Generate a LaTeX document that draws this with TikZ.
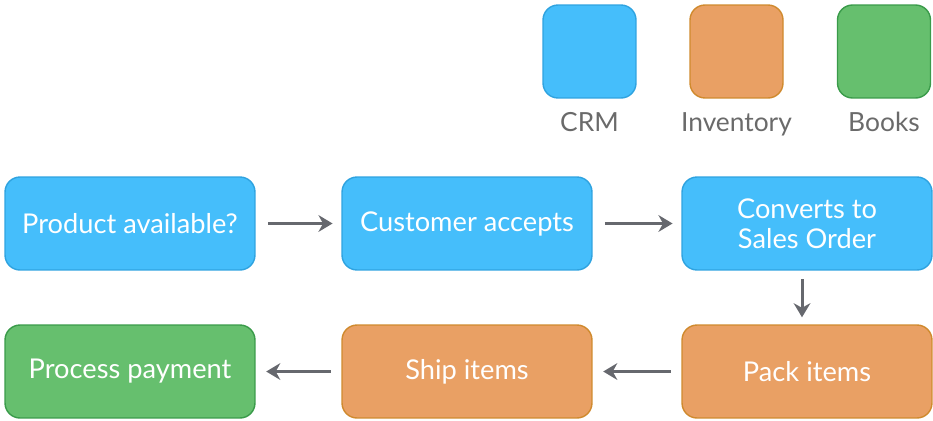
\documentclass[tikz,border=0pt]{standalone}
\usepackage{fontspec}
\setmainfont{Lato}
\usetikzlibrary{arrows.meta}

\definecolor{crmfill}{HTML}{45BEFB}
\definecolor{crmline}{HTML}{2FA3E0}
\definecolor{invfill}{HTML}{E9A064}
\definecolor{invline}{HTML}{D08A2E}
\definecolor{bkfill}{HTML}{66BF6E}
\definecolor{bkline}{HTML}{3A9B4A}
\definecolor{arrowgray}{HTML}{66686E}
\definecolor{labelgray}{HTML}{6A6A6A}

\tikzset{
    box/.style={rounded corners=0.3cm, line width=0.8pt, minimum width=5cm, minimum height=1.86cm,
        inner sep=0pt, align=center, text=white, font=\fontsize{15.5}{17}\selectfont},
    crm/.style={box, fill=crmfill, draw=crmline},
    inv/.style={box, fill=invfill, draw=invline},
    bk/.style={box, fill=bkfill, draw=bkline},
    legend/.style={minimum width=1.86cm, minimum height=1.86cm},
    legendtext/.style={anchor=base, text=labelgray, font=\fontsize{15}{17}\selectfont},
    flow/.style={-{Stealth[length=8pt, width=9.5pt]}, arrowgray, line width=1.7pt}
}

\begin{document}
\begin{tikzpicture}[x=0.02cm, y=-0.02cm]
        \useasboundingbox (0,0) rectangle (933,420);
        % legend
        \node[crm, legend] (lcrm) at (589.5,51.5) {};
        \node[inv, legend] (linv) at (736.5,51.5) {};
        \node[bk, legend] (lbk) at (884,51.5) {};
        \node[legendtext] (tcrm) at (589.5,131) {CRM};
        \node[legendtext] (tinv) at (736.5,131) {Inventory};
        \node[legendtext] (tbk) at (884,131) {Books};
        % first row
        \node[crm] (avail) at (130,223.5) {Product available?};
        \node[crm] (accept) at (467,223.5) {Customer accepts};
        \node[crm] (order) at (807,223.5) {Converts to\\Sales Order};
        % second row
        \node[inv] (pack) at (807,371.5) {Pack items};
        \node[inv] (ship) at (467,371.5) {Ship items};
        \node[bk] (pay) at (130,371.5) {Process payment};
        % arrows
        \draw[flow, shorten <=7pt, shorten >=5pt] (avail) -- (accept);
        \draw[flow, shorten <=7pt, shorten >=5pt] (accept) -- (order);
        \draw[flow, shorten <=5pt, shorten >=4pt] (order.south -| 802,0) -- (pack.north -| 802,0);
        \draw[flow, shorten <=6pt, shorten >=6pt] (pack) -- (ship);
        \draw[flow, shorten <=6pt, shorten >=6pt] (ship) -- (pay);
    \end{tikzpicture}
\end{document}
